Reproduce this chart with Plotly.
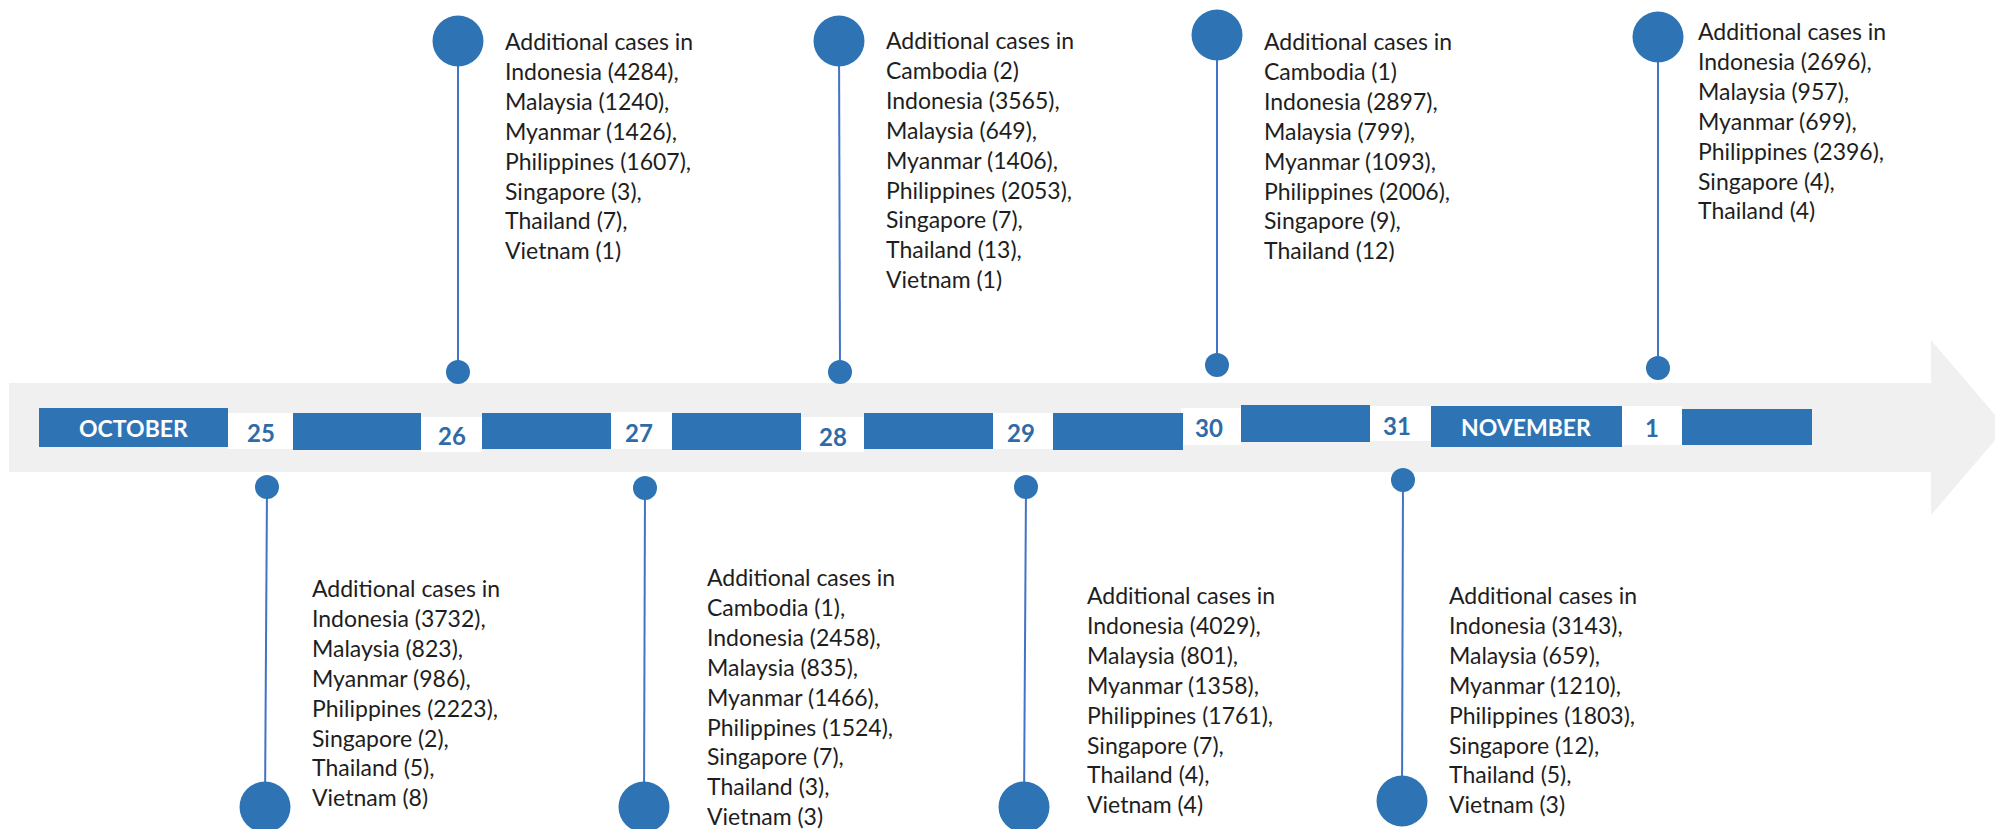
import plotly.graph_objects as go

# ---------------- data ----------------
days = ["25", "26", "27", "28", "29", "30", "31", "1"]
months = ["OCTOBER", "NOVEMBER"]
header = "Additional cases in"
countries = ["Cambodia", "Indonesia", "Malaysia", "Myanmar", "Philippines",
             "Singapore", "Thailand", "Vietnam"]
cambodia = [None, None, 1, 2, None, 1, None, None]
indonesia = [3732, 4284, 2458, 3565, 4029, 2897, 3143, 2696]
malaysia = [823, 1240, 835, 649, 801, 799, 659, 957]
myanmar = [986, 1426, 1466, 1406, 1358, 1093, 1210, 699]
philippines = [2223, 1607, 1524, 2053, 1761, 2006, 1803, 2396]
singapore = [2, 3, 7, 7, 7, 9, 12, 4]
thailand = [5, 7, 3, 13, 4, 12, 5, 4]
vietnam = [8, 1, 3, 1, 4, None, 3, None]
cambodia_sep = ["", "", ",", "", "", "", "", ""]

# ---------------- layout (canvas coordinates) ----------------
W, H = 2003, 829
PAGE_MARGIN = 8  # default body margin of the html page
BLUE = "#2E74B5"
DAYBLUE = "#2F6BA6"
LINE = "#4472C4"
BAND = "#F0F0F0"
TXT = "#1E1E1E"
FONT = "Lato, 'Liberation Sans', sans-serif"
FS = 23

marker_x = [267, 458, 645, 840, 1026, 1217, 1403, 1658]
small_y = [487, 372, 488, 372, 487, 365, 480, 368]
big_y = [807, 41, 807, 41, 807, 35, 801, 37]
big_x = [265, 458, 644, 839, 1024, 1217, 1402, 1658]
text_x = [310, 503, 705, 884, 1085, 1262, 1447, 1696]
text_y = [588, 41, 577, 40, 595, 41, 595, 31]
label_x = [261, 452, 639, 833, 1021, 1209, 1397, 1652]
label_y = [432, 435, 432, 436, 432, 427, 425, 427]

blue_boxes = [(39, 228, 408, 447), (293, 421, 413, 450), (482, 611, 413, 449),
              (672, 801, 413, 450), (864, 993, 413, 449), (1053, 1183, 413, 450),
              (1241, 1370, 405, 442), (1431, 1622, 406, 447), (1682, 1812, 409, 445)]
white_boxes = [(228, 293, 413, 449), (421, 482, 417, 452), (611, 672, 412, 449),
               (801, 864, 417, 452), (993, 1053, 413, 449), (1181, 1241, 408, 445),
               (1370, 1431, 406, 441), (1622, 1682, 406, 445)]
month_pos = [(133, 428), (1526, 427)]

fig = go.Figure()

shapes = []
# arrow band
shapes.append(dict(type="path",
                   path="M 9 383 L 1931 383 L 1931 340 L 2006 427.5 L 1931 515 L 1931 472 L 9 472 Z",
                   fillcolor=BAND, line=dict(width=0), layer="below"))
for (x0, x1, y0, y1) in white_boxes:
    shapes.append(dict(type="rect", x0=x0, x1=x1, y0=y0, y1=y1,
                       fillcolor="white", line=dict(width=0), layer="below"))
for (x0, x1, y0, y1) in blue_boxes:
    shapes.append(dict(type="rect", x0=x0, x1=x1, y0=y0, y1=y1,
                       fillcolor=BLUE, line=dict(width=0), layer="below"))

# connector lines
for i in range(len(days)):
    fig.add_trace(go.Scatter(x=[marker_x[i], big_x[i]], y=[small_y[i], big_y[i]],
                             mode="lines", line=dict(color=LINE, width=2),
                             hoverinfo="skip", showlegend=False))
# small circles
fig.add_trace(go.Scatter(x=marker_x, y=small_y, mode="markers",
                         marker=dict(size=24, color=BLUE, line=dict(width=0)),
                         hoverinfo="skip", showlegend=False))
# big circles
fig.add_trace(go.Scatter(x=big_x, y=big_y, mode="markers",
                         marker=dict(size=51, color=BLUE, line=dict(width=0)),
                         hoverinfo="skip", showlegend=False))

annotations = []
series = [cambodia, indonesia, malaysia, myanmar, philippines, singapore, thailand, vietnam]
line_h = FS * 1.3
for i, d in enumerate(days):
    entries = []
    for c, vals in zip(countries, series):
        if vals[i] is not None:
            entries.append((c, vals[i]))
    lines = [header]
    for k, (c, v) in enumerate(entries):
        if c == "Cambodia":
            sep = cambodia_sep[i]
        else:
            sep = "," if k < len(entries) - 1 else ""
        lines.append(f"{c} ({v}){sep}")
    annotations.append(dict(x=text_x[i], y=text_y[i] - line_h / 2 - 1, xref="x", yref="y",
                            text="<br>".join(lines), showarrow=False,
                            xanchor="left", yanchor="top", align="left",
                            font=dict(family=FONT, size=FS, color=TXT)))
    annotations.append(dict(x=label_x[i], y=label_y[i], xref="x", yref="y", text=f"<b>{d}</b>",
                            showarrow=False, xanchor="center", yanchor="middle",
                            font=dict(family=FONT, size=24, color=DAYBLUE)))
for m, (mx, my) in zip(months, month_pos):
    annotations.append(dict(x=mx, y=my, xref="x", yref="y", text=f"<b>{m}</b>",
                            showarrow=False, xanchor="center", yanchor="middle",
                            font=dict(family=FONT, size=23, color="white")))

fig.update_layout(
    width=W, height=H, margin=dict(l=0, r=0, t=0, b=0),
    paper_bgcolor="white", plot_bgcolor="white",
    xaxis=dict(range=[PAGE_MARGIN, W + PAGE_MARGIN], visible=False, fixedrange=True),
    yaxis=dict(range=[H + PAGE_MARGIN, PAGE_MARGIN], visible=False, fixedrange=True),
    shapes=shapes, annotations=annotations, showlegend=False,
)
fig.write_html("out.html")
